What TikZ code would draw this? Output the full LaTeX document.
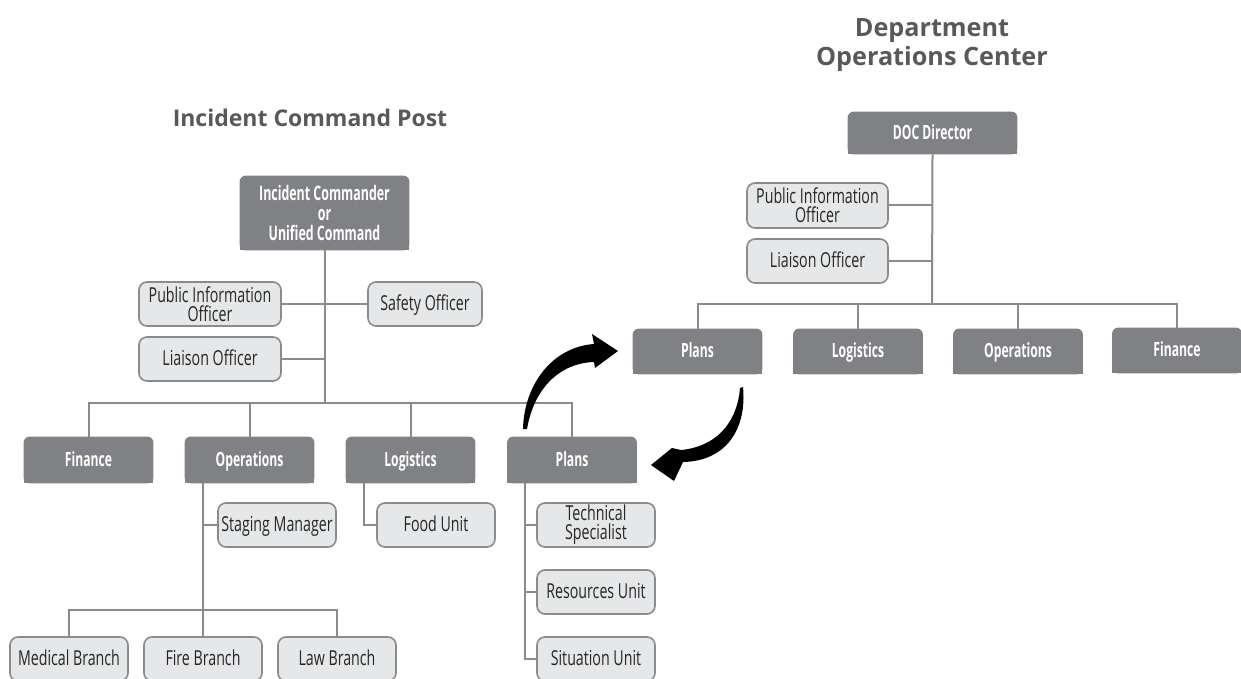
\documentclass[tikz,border=0pt]{standalone}
\usepackage{fontspec}
\usetikzlibrary{calc,backgrounds}
\newfontfamily\boxfont{Open Sans}[FakeStretch=0.69]
\newfontfamily\tabfont{Open Sans}[FakeStretch=0.62]
\newfontfamily\headfont{Open Sans}
\definecolor{tabgray}{HTML}{808184}
\definecolor{cardgray}{HTML}{E6E7E8}
\definecolor{rulegray}{HTML}{8A8B8D}
\definecolor{inkgray}{HTML}{58595B}

\begin{document}
\begin{tikzpicture}[
    x=0.5pt, y=-0.5pt,
    flat/.style={text height=8.6pt, text depth=2.4pt},
    tall/.style={text height={}, text depth={}},
    tab/.style={minimum width=64.5pt, minimum height=23pt, inner sep=0pt,
                text=white, align=center, flat,
                font=\tabfont\bfseries\fontsize{9.8}{9.5}\selectfont},
    card/.style={draw=rulegray, fill=cardgray, line width=0.8pt,
                 rounded corners=4pt, minimum width=59pt, minimum height=22pt,
                 inner sep=0pt, align=center, text=black!85, flat,
                 font=\boxfont\fontsize{10.3}{9.6}\selectfont},
    title/.style={text=inkgray, align=center,
                  font=\headfont\bfseries\fontsize{11.5}{14.5}\selectfont},
    link/.style={draw=rulegray, line width=1pt},
    swoosh/.style={fill=black}
]
    \useasboundingbox (0,0) rectangle (1241,679);

    % titles
    \node[title] (icpTitle) at (310,118) {Incident Command Post};
    \node[title, font=\headfont\bfseries\fontsize{12.6}{14.8}\selectfont]
        (docTitle) at (932,45) {Department\\Operations Center};

    % incident command post
    \node[tab, tall, minimum width=84.5pt, minimum height=37pt,
          font=\tabfont\bfseries\fontsize{10}{9.9}\selectfont] (ic) at (324.5,213)
        {Incident Commander\\or\\Unified Command};
    \node[card, tall, minimum width=71pt] (pioL) at (210,304) {Public Information\\Officer};
    \node[card, minimum width=57pt] (safety) at (425,304) {Safety Officer};
    \node[card, minimum width=71pt] (liaisonL) at (210,359) {Liaison Officer};

    \node[tab] (finL) at (88.5,460) {Finance};
    \node[tab] (opsL) at (249.5,460) {Operations};
    \node[tab] (logL) at (410.5,460) {Logistics};
    \node[tab] (plansL) at (572,460) {Plans};

    \node[card] (staging) at (277,525) {Staging Manager};
    \node[card] (food) at (436,525) {Food Unit};
    \node[card, tall] (tech) at (596,525) {Technical\\Specialist};
    \node[card] (resources) at (596,592) {Resources Unit};
    \node[card] (situation) at (596,659) {Situation Unit};
    \node[card] (medical) at (69,659) {Medical Branch};
    \node[card] (fire) at (203,659) {Fire Branch};
    \node[card] (law) at (337,659) {Law Branch};

    % department operations center
    \node[tab, minimum width=84.5pt, minimum height=21pt] (doc) at (932.5,133) {DOC Director};
    \node[card, tall, minimum width=70.5pt, minimum height=22.5pt] (pioR) at (817.5,205.5)
        {Public Information\\Officer};
    \node[card, minimum width=70.5pt] (liaisonR) at (817.5,261) {Liaison Officer};

    \node[tab, minimum height=22.5pt] (plansR) at (697.5,351.5) {Plans};
    \node[tab, minimum height=22.5pt] (logR) at (858,351.5) {Logistics};
    \node[tab, minimum height=22.5pt] (opsR) at (1018,351.5) {Operations};
    \node[tab, minimum height=22.5pt] (finR) at (1177,350.5) {Finance};

    % dark tabs: round top, square bottom
    \begin{scope}[on background layer]
        \foreach \n in {ic,finL,opsL,logL,plansL,doc,plansR,logR,opsR,finR} {
            \fill[tabgray, rounded corners=3pt] (\n.north west) rectangle (\n.south east);
            \fill[tabgray] (\n.west) rectangle (\n.south east);
        }
    \end{scope}

    % command lines, left
    \coordinate (busL) at (324.5,403);
    \draw[link] (ic.south) -- (busL);
    \draw[link] (pioL) -- (safety);
    \draw[link] (liaisonL) -- (liaisonL -| ic);
    \draw[link] (finL.north) |- (busL) -| (plansL.north);
    \foreach \n in {opsL,logL}
        \draw[link] (\n.north) -- (\n.north |- busL);

    \draw[link] (fire.north |- opsL.south) -- (fire.north);
    \draw[link] (staging.west) -- (staging.west -| fire);
    \draw[link] (medical.north) |- ($(fire.north)+(0,-26)$) -| (law.north);
    \draw[link] ($(logL.south west)+(18,0)$) |- (food.west);
    \foreach \n in {tech,resources,situation}
        \draw[link] ($(plansL.south west)+(18,0)$) |- (\n.west);

    % command lines, right
    \coordinate (busR) at (932,304);
    \draw[link] (doc.south) -- (busR);
    \draw[link] (pioR) -- (pioR -| busR);
    \draw[link] (liaisonR) -- (liaisonR -| busR);
    \draw[link] (plansR.north) |- (busR) -| (finR.north);
    \foreach \n in {logR,opsR}
        \draw[link] (\n.north) -- (\n.north |- busR);

    % hand-off arrows between the two plans sections
    \fill[swoosh] (523,429) .. controls (524,385) and (552,347) .. (594,344)
        -- (592,334) -- (618,351) -- (595,368) -- (594,362)
        .. controls (560,363) and (534,388) .. (527,429) -- cycle;
    \fill[swoosh] (743,387) .. controls (747,428) and (727,461) .. (683,462)
        -- (674,481) -- (651,465) -- (672,448) -- (681,450)
        .. controls (714,447) and (737,425) .. (740,388) -- cycle;
\end{tikzpicture}
\end{document}
